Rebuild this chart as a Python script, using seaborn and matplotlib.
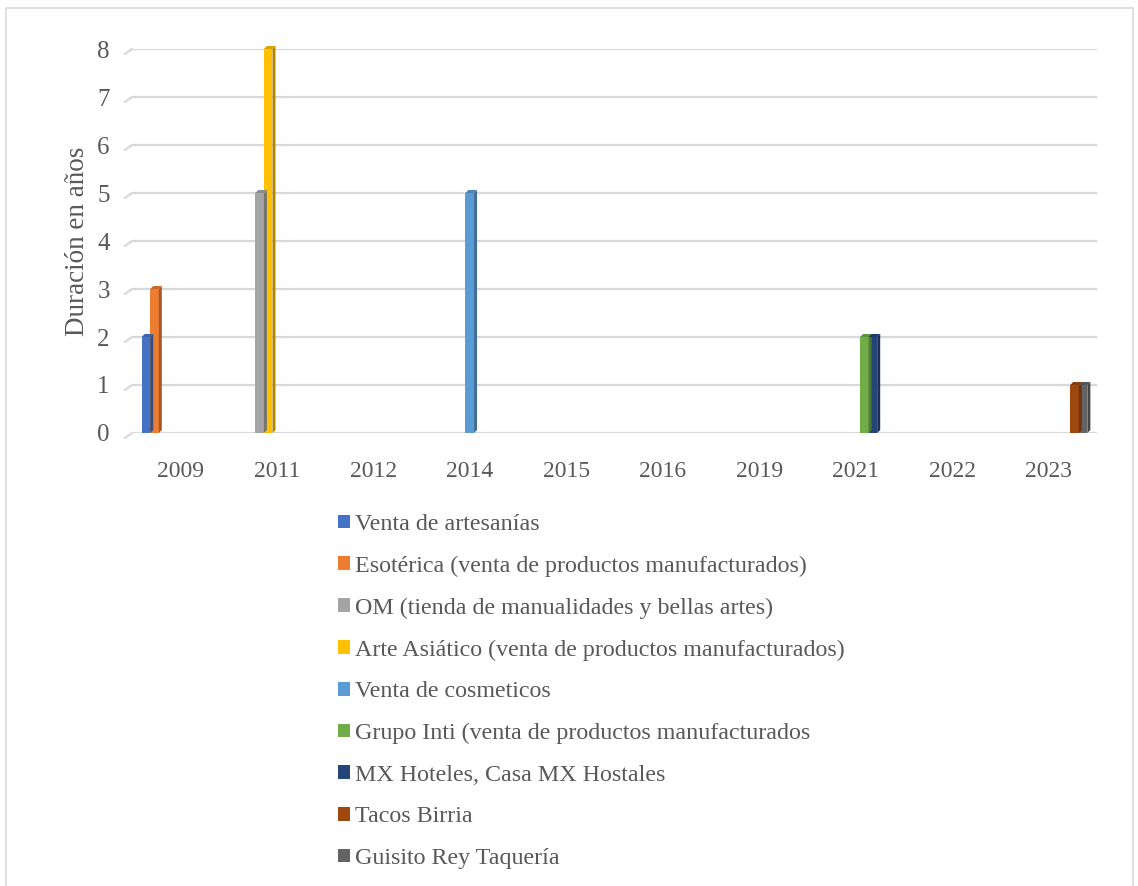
import matplotlib
matplotlib.use("Agg")
import matplotlib.pyplot as plt
import matplotlib.transforms as mtransforms
from matplotlib.patches import Rectangle, Polygon
from matplotlib.lines import Line2D
import seaborn as sns
import pandas as pd
import numpy as np

years = ["2009", "2011", "2012", "2014", "2015", "2016", "2019", "2021", "2022", "2023"]
series = [
    "Venta de artesanías",
    "Esotérica (venta de productos manufacturados)",
    "OM (tienda de manualidades y bellas artes)",
    "Arte Asiático (venta de productos manufacturados)",
    "Venta de cosmeticos",
    "Grupo Inti (venta de productos manufacturados",
    "MX Hoteles, Casa MX Hostales",
    "Tacos Birria",
    "Guisito Rey Taquería",
]
# value per series for each year
values = {
    "Venta de artesanías":                               [2, 0, 0, 0, 0, 0, 0, 0, 0, 0],
    "Esotérica (venta de productos manufacturados)":     [3, 0, 0, 0, 0, 0, 0, 0, 0, 0],
    "OM (tienda de manualidades y bellas artes)":        [0, 5, 0, 0, 0, 0, 0, 0, 0, 0],
    "Arte Asiático (venta de productos manufacturados)": [0, 8, 0, 0, 0, 0, 0, 0, 0, 0],
    "Venta de cosmeticos":                               [0, 0, 0, 5, 0, 0, 0, 0, 0, 0],
    "Grupo Inti (venta de productos manufacturados":     [0, 0, 0, 0, 0, 0, 0, 2, 0, 0],
    "MX Hoteles, Casa MX Hostales":                      [0, 0, 0, 0, 0, 0, 0, 2, 0, 0],
    "Tacos Birria":                                      [0, 0, 0, 0, 0, 0, 0, 0, 0, 1],
    "Guisito Rey Taquería":                              [0, 0, 0, 0, 0, 0, 0, 0, 0, 1],
}
colors = ["#4472C4", "#ED7D31", "#A5A5A5", "#FFC000", "#5B9BD5",
          "#70AD47", "#264478", "#9E480E", "#636363"]
yticks = [0, 1, 2, 3, 4, 5, 6, 7, 8]

rows = []
for s in series:
    for y, v in zip(years, values[s]):
        rows.append({"year": y, "serie": s, "valor": v})
df = pd.DataFrame(rows)

sns.set_style("white")
plt.rcParams["font.family"] = ["Liberation Serif", "DejaVu Serif"]
TXT = "#595959"

W, H = 1138, 886
fig = plt.figure(figsize=(W / 100, H / 100), dpi=100)
ax = fig.add_axes([132 / W, (H - 433) / H, (1097 - 132) / W, (433 - 49) / H])

palette = dict(zip(series, colors))
sns.barplot(data=df, x="year", y="valor", hue="serie", order=years,
            hue_order=series, palette=palette, width=0.8, dodge=True,
            saturation=1, errorbar=None, legend=False, ax=ax, linewidth=0)

ax.set_ylim(0, 8)
ax.set_yticks(yticks)
ax.set_xlim(-0.5, len(years) - 0.5)
ax.yaxis.grid(True, color="#D9D9D9", linewidth=1.6)
ax.set_axisbelow(True)
for sp in ax.spines.values():
    sp.set_visible(False)
ax.tick_params(axis="y", length=0, pad=16, labelsize=18, labelcolor=TXT)
ax.tick_params(axis="x", length=0, pad=20, labelsize=17, labelcolor=TXT)
ax.set_xlabel("")
ax.set_ylabel("Duración en años", fontsize=19.5, color=TXT, labelpad=5)

# 3D floor stubs at left of gridlines
blend = mtransforms.blended_transform_factory(ax.transAxes, ax.transData)
for t in yticks:
    x0, y0 = blend.transform((0, t))
    fig.add_artist(Line2D([x0 / W, (x0 - 7) / W], [y0 / H, (y0 - 5) / H],
                          color="#D9D9D9", linewidth=1.6))

# 3D side/top faces for each bar
def darker(c, f=0.7):
    r, g, b = matplotlib.colors.to_rgb(c)
    return (r * f, g * f, b * f)

for p in list(ax.patches):
    h = p.get_height()
    if h <= 0:
        continue
    fc = p.get_facecolor()
    x1 = p.get_x() + p.get_width()
    xa = p.get_x()
    (px0, py0) = ax.transData.transform((xa, 0))
    (px1, py1) = ax.transData.transform((x1, h))
    d = 3
    side = Polygon([(px1, py0), (px1 + d, py0 + d), (px1 + d, py1 + d), (px1, py1)],
                   closed=True, transform=None, facecolor=darker(fc, 0.7),
                   edgecolor="none", zorder=3)
    top = Polygon([(px0, py1), (px0 + d, py1 + d), (px1 + d, py1 + d), (px1, py1)],
                  closed=True, transform=None, facecolor=darker(fc, 0.85),
                  edgecolor="none", zorder=3)
    fig.add_artist(side)
    fig.add_artist(top)

# Legend
handles = [Rectangle((0, 0), 1, 1, facecolor=c, edgecolor="none") for c in colors]
leg = fig.legend(handles, series, loc="upper left",
                 bbox_to_anchor=(338 / W, (H - 514) / H),
                 frameon=False, fontsize=17.3, handlelength=0.5, handleheight=0.5,
                 handletextpad=0.22, labelspacing=0.86, borderaxespad=0,
                 borderpad=0)
for t in leg.get_texts():
    t.set_color(TXT)

# outer chart border
fig.add_artist(Rectangle((6 / W, -0.01), (1133 - 6) / W, (H - 8) / H + 0.01,
                         transform=fig.transFigure, fill=False,
                         edgecolor="#D9D9D9", linewidth=1.2))

fig.savefig("out.png", dpi=100)
